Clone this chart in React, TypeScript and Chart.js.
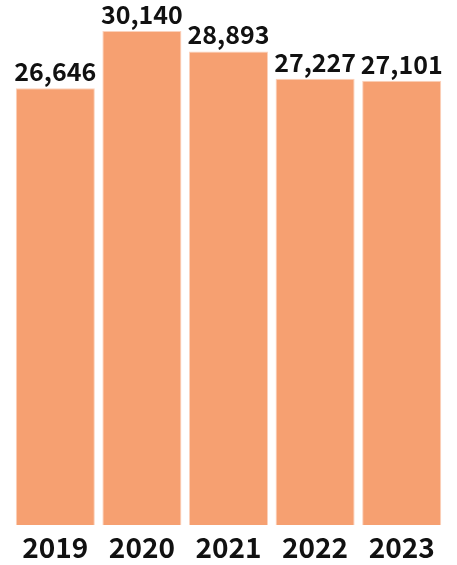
import React, { useEffect, useRef } from "react";
import { Chart, registerables } from "chart.js";

Chart.register(...registerables);

const categories = ["2019", "2020", "2021", "2022", "2023"];
const values = [26646, 30140, 28893, 27227, 27101];

const FONT = "'Noto Sans CJK TC', 'Noto Sans', sans-serif";

const valueLabels = {
  id: "valueLabels",
  afterDatasetsDraw(chart: any) {
    const ctx = chart.ctx;
    const meta = chart.getDatasetMeta(0);
    ctx.save();
    ctx.font = `bold 25px ${FONT}`;
    ctx.fillStyle = "#111";
    ctx.textAlign = "center";
    ctx.textBaseline = "alphabetic";
    meta.data.forEach((bar: any, i: number) => {
      ctx.fillText(values[i].toLocaleString("en-US"), bar.x, bar.y - 7);
    });
    ctx.restore();
  },
};

export default function App() {
  const ref = useRef<HTMLCanvasElement>(null);
  useEffect(() => {
    if (!ref.current) return;
    const chart = new Chart(ref.current, {
      type: "bar",
      data: {
        labels: categories,
        datasets: [
          {
            data: values,
            backgroundColor: "#F6A071",
            borderColor: "#FBD2BC",
            borderWidth: 1,
            barPercentage: 0.913,
            categoryPercentage: 1,
          },
        ],
      },
      options: {
        animation: false,
        responsive: false,
        layout: { padding: { left: 12, right: 12, top: 0, bottom: 0 } },
        plugins: { legend: { display: false }, tooltip: { enabled: false } },
        scales: {
          y: { display: false, min: 0, max: 32031 },
          x: {
            grid: { display: false, drawTicks: false },
            border: { display: false },
            ticks: {
              color: "#111",
              font: { family: FONT, size: 28, weight: "bold" },
              padding: 6,
            },
            afterFit: (s: any) => {
              s.height = 40;
            },
          },
        },
      },
      plugins: [valueLabels],
    });
    return () => chart.destroy();
  }, []);
  return (
    <div style={{ position: "fixed", left: 0, top: 0, width: 457, height: 565, background: "#fff" }}>
      <canvas ref={ref} width={457} height={565} />
    </div>
  );
}
